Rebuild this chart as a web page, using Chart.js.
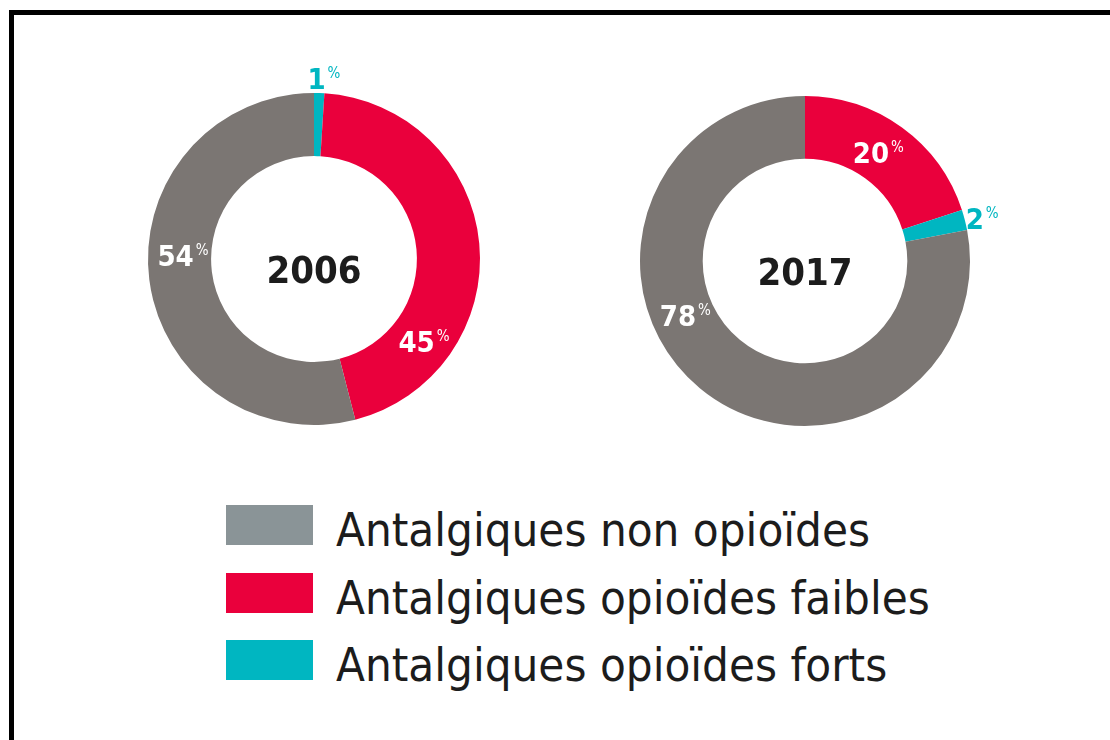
<!DOCTYPE html>
<html>
<head>
<meta charset="utf-8">
<script src="https://cdn.jsdelivr.net/npm/chart.js@4/dist/chart.umd.min.js"></script>
<style>
  html, body { margin: 0; padding: 0; background: #fff; }
  body { width: 1110px; height: 740px; position: relative; overflow: hidden; }
  #frame { position: absolute; left: 9px; top: 10px; width: 1200px; height: 800px;
           border-top: 5px solid #000; border-left: 5px solid #000; box-sizing: border-box; }
  canvas { position: absolute; }
  #c2006 { left: 93.5px; top: 38.5px; }
  #c2017 { left: 585px; top: 41px; }
  #legend { position: absolute; left: 226px; top: 505px; }
  .row { position: absolute; left: 0; height: 40px; width: 900px; }
  .sw { position: absolute; left: 0; top: 0; width: 87px; height: 40px; }
  .txt { position: absolute; left: 110px; top: 1px; font-family: "DejaVu Sans Condensed", "Liberation Sans Narrow", sans-serif;
         font-size: 47px; line-height: 47px; color: #1c1c1c; white-space: nowrap; transform-origin: 0 0; }
</style>
</head>
<body>
<div id="frame"></div>
<canvas id="c2006" width="440" height="440"></canvas>
<canvas id="c2017" width="440" height="440"></canvas>
<div id="legend"></div>
<script>
// ---- data ----
const categories = ['Antalgiques non opioïdes', 'Antalgiques opioïdes faibles', 'Antalgiques opioïdes forts'];
const years = ['2006', '2017'];
const values2006 = [54, 45, 1];
const values2017 = [78, 20, 2];

// ---- styles ----
const sliceColors = ['#7b7673', '#ea003c', '#00b6c1'];
const legendColors = ['#8a9497', '#ea003c', '#00b6c1'];
const order2006 = [2, 1, 0];
const order2017 = [1, 2, 0];
// label placement per category: angle (deg clockwise from top), radius factor of outer radius
const place2006 = [{a: 271.4, r: 0.834}, {a: 128.8, r: 0.793}, {a: 0.8, r: 1.087}];
const place2017 = [{a: 246.6, r: 0.839}, {a: 31.4, r: 0.767}, {a: 76.1, r: 1.06}];

const FONT = '"DejaVu Sans Condensed", "Liberation Sans Narrow", sans-serif';

const labelPlugin = {
  id: 'sliceLabels',
  afterDatasetsDraw(chart, args, opts) {
    const ctx = chart.ctx;
    const meta = chart.getDatasetMeta(0);
    const arc0 = meta.data[0];
    const cx = arc0.x, cy = arc0.y, R = arc0.outerRadius;
    ctx.save();
    // centre year
    ctx.fillStyle = '#1c1c1c';
    ctx.font = 'bold 38px ' + FONT;
    ctx.textAlign = 'center';
    ctx.textBaseline = 'alphabetic';
    ctx.fillText(opts.year, cx, cy + 24);
    // percentage labels
    opts.order.forEach((cat, k) => {
      const p = opts.place[cat];
      const ang = p.a * Math.PI / 180;
      const px = cx + p.r * R * Math.sin(ang);
      const py = cy - p.r * R * Math.cos(ang);
      const v = chart.data.datasets[0].data[k];
      const txt = String(v);
      ctx.fillStyle = p.r > 1 ? opts.colors[cat] : '#ffffff';
      ctx.font = 'bold 29px ' + FONT;
      ctx.textAlign = 'center';
      ctx.textBaseline = 'alphabetic';
      const w = ctx.measureText(txt).width;
      ctx.fillText(txt, px, py + 10.5);
      ctx.font = '15px ' + FONT;
      ctx.textAlign = 'left';
      ctx.fillText('%', px + w / 2 + 2, py - 0.5);
    });
    ctx.restore();
  }
};

function makeChart(id, year, values, order, place, pad) {
  return new Chart(document.getElementById(id), {
    type: 'doughnut',
    data: {
      labels: order.map(i => categories[i]),
      datasets: [{
        data: order.map(i => values[i]),
        backgroundColor: order.map(i => sliceColors[i]),
        borderWidth: 0,
        hoverOffset: 0
      }]
    },
    options: {
      responsive: false,
      animation: false,
      cutout: '62%',
      layout: { padding: pad },
      plugins: {
        legend: { display: false },
        tooltip: { enabled: false },
        sliceLabels: { year: year, order: order, place: place, colors: sliceColors }
      }
    },
    plugins: [labelPlugin]
  });
}

makeChart('c2006', years[0], values2006, order2006, place2006, 54);
makeChart('c2017', years[1], values2017, order2017, place2017, 55);

// ---- legend ----
const legend = document.getElementById('legend');
const rowTops = [0, 67.5, 135];
const spans = [];
categories.forEach((c, i) => {
  const row = document.createElement('div');
  row.className = 'row';
  row.style.top = rowTops[i] + 'px';
  const sw = document.createElement('div');
  sw.className = 'sw';
  sw.style.background = legendColors[i];
  const t = document.createElement('span');
  t.className = 'txt';
  t.textContent = c;
  row.appendChild(sw);
  row.appendChild(t);
  legend.appendChild(row);
  spans.push(t);
});
const targetWidth = 534;
const s = targetWidth / spans[0].getBoundingClientRect().width;
spans.forEach(t => { t.style.transform = 'scaleX(' + s + ')'; });
</script>
</body>
</html>
